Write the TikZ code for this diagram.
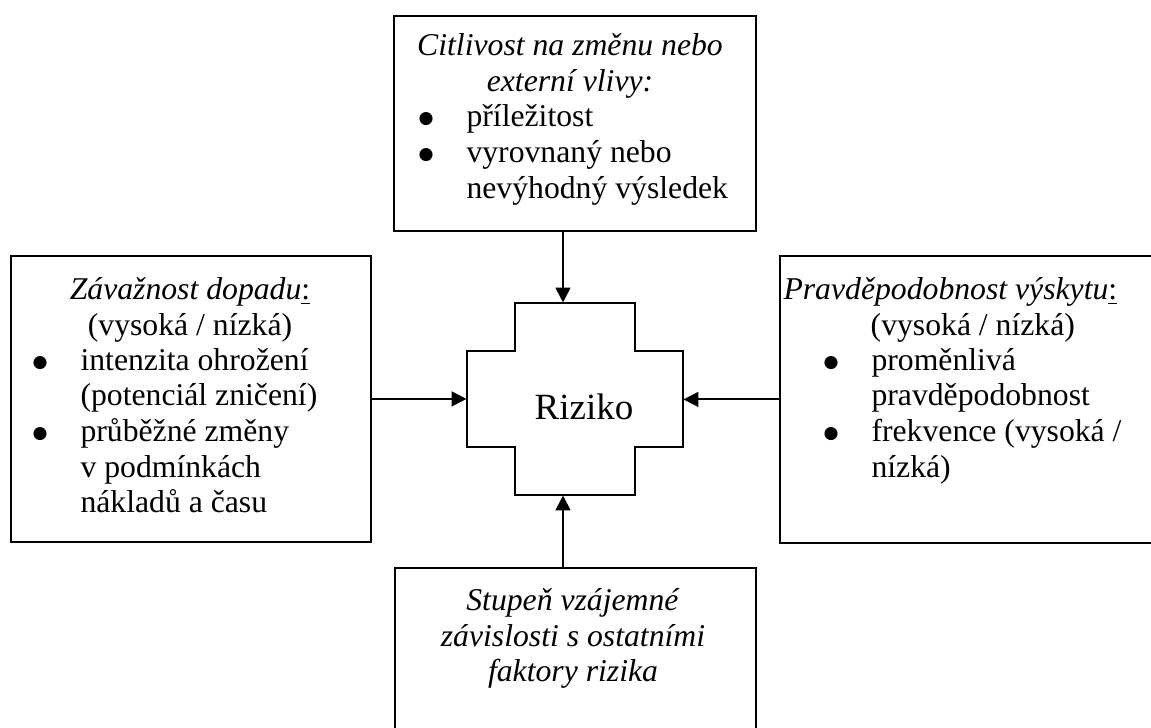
\documentclass[tikz,border=0pt]{standalone}
\usepackage{fontspec}
\setmainfont{Liberation Serif}
\newfontfamily\dotfont{DejaVu Sans}
\usepackage{tikz}
\usetikzlibrary{arrows.meta}
\newcommand{\pxu}{0.3785pt}
\newcommand{\bul}{\makebox[19pt][l]{\hspace{0.9pt}\raisebox{1.1pt}{\dotfont\fontsize{6.5}{7}\selectfont ●}}}
\newcommand{\cont}{\hspace*{19pt}}
\tikzset{
  frame/.style={draw=black, line width=0.7pt},
  factorbox/.style={frame, rectangle, inner sep=0pt, anchor=north west},
  txt/.style={font=\fontsize{12}{13.5}\selectfont, inner sep=0pt, align=left, anchor=north west},
  ttl/.style={txt, align=center, anchor=north},
  arr/.style={draw=black, line width=0.7pt, -{Triangle[length=5.6pt,width=5.6pt]}},
}

\begin{document}
\begin{tikzpicture}[x=\pxu, y=-\pxu]
  \path[use as bounding box] (0,0) rectangle (1151,728);
  \clip (0,0) rectangle (1151,728);

  % the four factor boxes
  \node[factorbox, minimum width=362*\pxu, minimum height=215*\pxu] (sensitivity) at (393,15) {};
  \node[factorbox, minimum width=360*\pxu, minimum height=286*\pxu] (impact) at (10,255) {};
  \node[factorbox, minimum width=394*\pxu, minimum height=287*\pxu] (likelihood) at (779,255) {};
  \node[factorbox, minimum width=361*\pxu, minimum height=200*\pxu] (interdep) at (394,567) {};

  % centre: risk cross
  \node[minimum width=216*\pxu, minimum height=192*\pxu, inner sep=0pt] (risk) at (575,399) {};
  \draw[frame] (467,351) -- (515,351) -- (515,303) -- (635,303) -- (635,351) -- (683,351)
    -- (683,447) -- (635,447) -- (635,495) -- (515,495) -- (515,447) -- (467,447) -- cycle;
  \node[font=\fontsize{14}{16}\selectfont, anchor=base, inner sep=0pt] (risklabel) at (584,420) {Riziko};

  % texts
  \node[ttl] (sensitivityttl) at (570,30) {\strut\textit{Citlivost na změnu nebo}\\\textit{externí vlivy:}};
  \node[txt] (sensitivitylist) at (415.8,101.4) {\strut\bul příležitost\\\bul vyrovnaný nebo\\\cont nevýhodný výsledek};

  \node[ttl] (impactttl) at (190,274) {\strut\textit{Závažnost dopadu}\underline{:}\\(vysoká / nízká)};
  \node[txt] (impactlist) at (29.8,344.6) {\strut\bul intenzita ohrožení\\\cont (potenciál zničení)\\\bul průběžné změny\\\cont v podmínkách\\\cont nákladů a času};

  \node[txt] (likelihoodttl) at (783,274) {\strut\textit{Pravděpodobnost výskytu}\underline{:}\\\hspace*{33pt}(vysoká / nízká)};
  \node[txt] (likelihoodlist) at (820.8,344.6) {\strut\bul proměnlivá\\\cont pravděpodobnost\\\bul frekvence (vysoká /\\\cont nízká)};

  \node[ttl] (interdepttl) at (573,585) {\strut\textit{Stupeň vzájemné}\\\textit{závislosti s ostatními}\\\textit{faktory rizika}};

  % arrows into the cross
  \coordinate (axis) at (563,0);
  \draw[arr] (sensitivity.south -| axis) -- (risk.north -| axis);
  \draw[arr] (interdep.north -| axis) -- (risk.south -| axis);
  \draw[arr] (impact.east) -- (impact.east -| risk.west);
  \draw[arr] (likelihood.west) -- (likelihood.west -| risk.east);
\end{tikzpicture}
\end{document}
